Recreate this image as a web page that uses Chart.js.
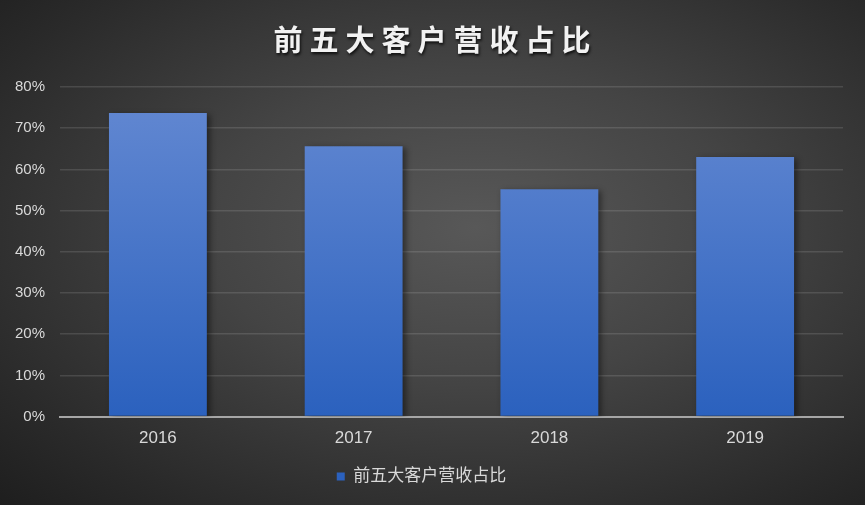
<!DOCTYPE html>
<html>
<head>
<meta charset="utf-8">
<script src="https://cdn.jsdelivr.net/npm/chart.js@4/dist/chart.umd.min.js"></script>
<style>
html, body { margin: 0; padding: 0; }
#wrap {
    width: 865px; height: 505px; position: relative;
    background: radial-gradient(ellipse at 55% 45%, #585858 0%, #444 40%, #2a2a2a 80%, #1e1e1e 100%);
}
</style>
</head>
<body>
<div id="wrap"><canvas id="bar-chart" width="865" height="505"></canvas></div>
<script>
var anni = ['2016', '2017', '2018', '2019'];
var quota = [73.7, 65.6, 55.2, 63.0];
var tickMax = 80;
var titolo = '前五大客户营收占比';

var fontFam = "'Liberation Sans', 'Noto Sans CJK SC', sans-serif";

// ombra leggera sulle barre
var ombra = {
    id: 'ombra',
    beforeDatasetDraw: function(chart) {
        var ctx = chart.ctx;
        ctx.save();
        ctx.shadowColor = 'rgba(0,0,0,0.45)';
        ctx.shadowBlur = 6;
        ctx.shadowOffsetX = 3;
        ctx.shadowOffsetY = 2;
    },
    afterDatasetDraw: function(chart) {
        chart.ctx.restore();
    }
};

// titolo con spaziatura e ombra
var titoloPlugin = {
    id: 'titoloPlugin',
    afterDraw: function(chart) {
        var ctx = chart.ctx;
        ctx.save();
        ctx.font = "bold 29px 'Noto Sans CJK SC', sans-serif";
        ctx.letterSpacing = '7px';
        ctx.textAlign = 'center';
        ctx.textBaseline = 'middle';
        ctx.shadowColor = 'rgba(0,0,0,0.8)';
        ctx.shadowBlur = 3;
        ctx.shadowOffsetX = 1;
        ctx.shadowOffsetY = 2;
        ctx.fillStyle = '#f2f2f2';
        ctx.fillText(titolo, chart.width / 2 + 3, 40);
        ctx.restore();
    }
};

var ctx = document.getElementById('bar-chart');
var chart = new Chart(ctx, {
    type: 'bar',
    data: {
        labels: anni,
        datasets: [{
            label: titolo,
            data: quota,
            backgroundColor: function(c) {
                var area = c.chart.chartArea;
                if (!area) return '#4472c4';
                var g = c.chart.ctx.createLinearGradient(0, area.top, 0, area.bottom);
                g.addColorStop(0, '#6489d2');
                g.addColorStop(1, '#2b61be');
                return g;
            },
            categoryPercentage: 1,
            barPercentage: 0.5
        }]
    },
    options: {
        responsive: false,
        animation: false,
        layout: { padding: { left: 0, right: 22, top: 87, bottom: 10 } },
        plugins: {
            title: { display: false },
            legend: {
                position: 'bottom',
                labels: {
                    color: '#d9d9d9',
                    boxWidth: 8,
                    boxHeight: 8,
                    font: { family: fontFam, size: 17 },
                    padding: 15
                }
            },
            tooltip: { enabled: false }
        },
        scales: {
            x: {
                grid: { display: false },
                border: { color: '#a6a6a6', width: 2 },
                ticks: { color: '#d9d9d9', font: { family: fontFam, size: 17 }, padding: 4 }
            },
            y: {
                min: 0,
                max: tickMax,
                ticks: {
                    stepSize: 10,
                    color: '#d9d9d9',
                    font: { family: fontFam, size: 15 },
                    padding: 15,
                    callback: function(v) { return v + '%'; }
                },
                grid: { color: 'rgba(255,255,255,0.12)', lineWidth: 1.5, drawTicks: false },
                border: { display: false }
            }
        }
    },
    plugins: [ombra, titoloPlugin]
});
</script>
</body>
</html>
